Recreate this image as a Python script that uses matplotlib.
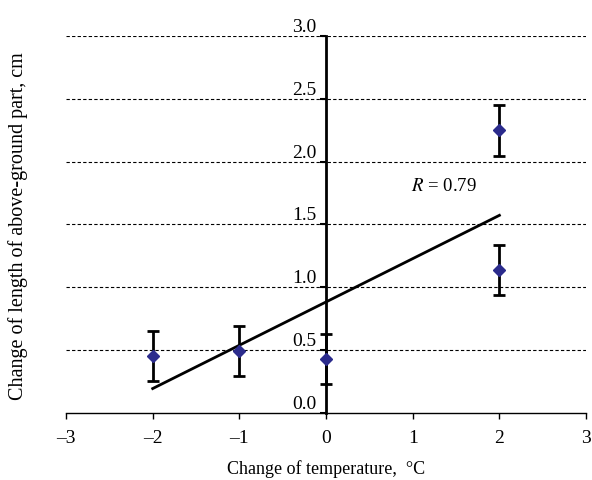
import numpy as np
import matplotlib.pyplot as plt
from matplotlib.transforms import ScaledTranslation

plt.rcParams['font.family'] = ['Liberation Serif', 'DejaVu Serif']

# data
temp_change = [-2, -1, 0, 2, 2]
length_change = [0.455, 0.494, 0.43, 2.249, 1.135]
err = [0.2, 0.2, 0.2, 0.2, 0.2]
x_ticks = [-3, -2, -1, 0, 1, 2, 3]
y_ticks = [0.0, 0.5, 1.0, 1.5, 2.0, 2.5, 3.0]

fig = plt.figure(figsize=(5.92, 4.8), dpi=100)
ax = fig.add_axes([0.1115, 0.1396, 0.8785, 0.7854])

# dashed grid lines
for y in y_ticks[1:]:
    ax.axhline(y, color='black', linestyle=(0, (3, 2)), linewidth=0.8, zorder=1)

# linear fit
slope, intercept = np.polyfit(temp_change, length_change, 1)
xs = np.array([-2, 2])
ax.plot(xs, slope * xs + intercept, color='black', linewidth=2, zorder=3)

ax.errorbar(temp_change, length_change, yerr=err, fmt='D', color='#2b2b8c',
            markersize=6, ecolor='black', elinewidth=2, capsize=4, capthick=2, zorder=4)

ax.text(0.98, 1.8, '$R$ = 0.79', fontsize=13.5, ha='left', va='center',
        math_fontfamily='stix')

ax.set_xlim(-3, 3)
ax.set_ylim(0, 3)
ax.spines['top'].set_visible(False)
ax.spines['right'].set_visible(False)
ax.spines['left'].set_position(('data', 0))
ax.spines['left'].set_linewidth(2)
ax.spines['bottom'].set_linewidth(1)

ax.set_xticks(x_ticks)
ax.set_xticklabels(['\u20133', '\u20132', '\u20131', '0', '1', '2', '3'])
ax.set_yticks(y_ticks)
ax.set_yticklabels(['%.1f' % v for v in y_ticks])
up = ScaledTranslation(0, 4 / 100, fig.dpi_scale_trans)
for lab in ax.get_yticklabels():
    lab.set_verticalalignment('bottom')
    lab.set_transform(lab.get_transform() + up)
ax.tick_params(axis='x', direction='out', length=4, width=1, labelsize=14, pad=8)
ax.tick_params(axis='y', direction='out', length=4, width=1.5, labelsize=14, pad=3)

ax.set_xlabel('Change of temperature,  \u00b0C', fontsize=13, labelpad=10)
fig.text(0.03, 0.529, 'Change of length of above-ground part, cm', fontsize=14.5,
         rotation=90, ha='center', va='center')

fig.savefig('out.png', dpi=100)
